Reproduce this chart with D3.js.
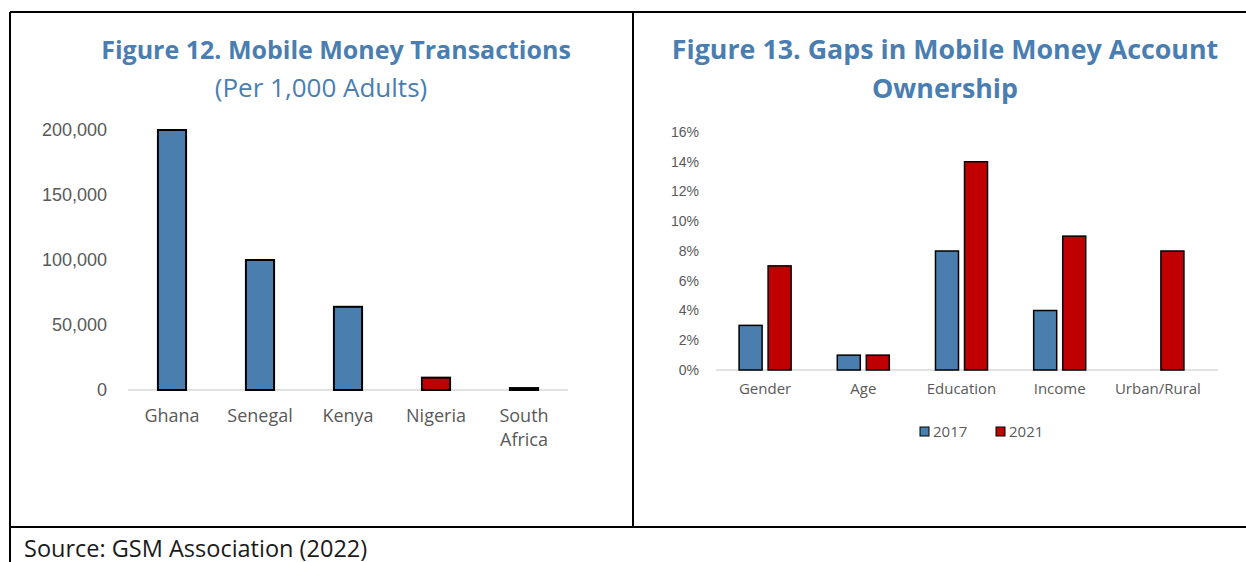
<!DOCTYPE html>
<html>
<head>
<meta charset="utf-8">
<script src="https://cdn.jsdelivr.net/npm/d3@7"></script>
<style>
  body { margin: 0; background: #fff; }
  svg { display: block; font-family: "Open Sans", "Noto Sans", sans-serif; }
</style>
</head>
<body>
<div id="chart"></div>
<script>
// Figure 12 data
const countries = ['Ghana', 'Senegal', 'Kenya', 'Nigeria', 'South Africa'];
const transactions = [200000, 100000, 64000, 9500, 1500];
const countryColors = ['#4a7eae', '#4a7eae', '#4a7eae', '#c00000', '#4a7eae'];
const txTicks = [0, 50000, 100000, 150000, 200000];

// Figure 13 data
const gapCategories = ['Gender', 'Age', 'Education', 'Income', 'Urban/Rural'];
const years = ['2017', '2021'];
const gaps2017 = [0.03, 0.01, 0.08, 0.04, null];
const gaps2021 = [0.07, 0.01, 0.14, 0.09, 0.08];
const gapTicks = [0, 0.02, 0.04, 0.06, 0.08, 0.10, 0.12, 0.14, 0.16];

const blue = '#4a7eae';
const red = '#c00000';
const titleColor = '#4a7eb0';
const axisGray = '#595959';

const W = 1246, H = 562;
const svg = d3.select('#chart').append('svg')
  .attr('width', W)
  .attr('height', H);

// frame lines
const frame = svg.append('g').attr('stroke', '#000').attr('stroke-width', 2);
frame.append('line').attr('x1', 10).attr('x2', W).attr('y1', 12).attr('y2', 12);
frame.append('line').attr('x1', 10).attr('x2', 10).attr('y1', 12).attr('y2', H);
frame.append('line').attr('x1', 633).attr('x2', 633).attr('y1', 12).attr('y2', 527);
frame.append('line').attr('x1', 10).attr('x2', W).attr('y1', 527).attr('y2', 527);

svg.append('text')
  .attr('x', 24).attr('y', 557)
  .attr('font-size', 23.5)
  .attr('fill', '#1a1a1a')
  .text('Source: GSM Association (2022)');

// ---- Figure 12 ----
const t1 = svg.append('g').attr('text-anchor', 'middle').attr('fill', titleColor);
t1.append('text').attr('x', 336).attr('y', 59)
  .attr('font-size', 25).attr('font-weight', 'bold')
  .text('Figure 12. Mobile Money Transactions');
t1.append('text').attr('x', 321).attr('y', 97)
  .attr('font-size', 26)
  .text('(Per 1,000 Adults)');

const x1 = d3.scaleBand().domain(countries).range([128, 568]).paddingInner(0.68).paddingOuter(0.34);
const y1 = d3.scaleLinear().domain([0, 200000]).range([390, 130]);

const g1 = svg.append('g');
const yAxis1 = g1.append('g')
  .attr('transform', 'translate(107,0)')
  .call(d3.axisLeft(y1).tickValues(txTicks).tickSize(0).tickPadding(0).tickFormat(d3.format(',')));
yAxis1.select('.domain').remove();
yAxis1.selectAll('text').attr('font-size', 18).attr('fill', axisGray).attr('font-family', null);

g1.append('line')
  .attr('x1', 128).attr('x2', 568)
  .attr('y1', y1(0)).attr('y2', y1(0))
  .attr('stroke', '#d9d9d9').attr('stroke-width', 1.5);

g1.selectAll('rect.bar')
  .data(countries)
  .join('rect')
  .attr('class', 'bar')
  .attr('x', d => x1(d))
  .attr('width', x1.bandwidth())
  .attr('y', (d, i) => y1(transactions[i]))
  .attr('height', (d, i) => y1(0) - y1(transactions[i]))
  .attr('fill', (d, i) => countryColors[i])
  .attr('stroke', '#000')
  .attr('stroke-width', 2);

const xl1 = g1.append('g').attr('text-anchor', 'middle').attr('font-size', 18).attr('fill', axisGray);
countries.forEach(c => {
  const words = c.split(' ');
  const t = xl1.append('text')
    .attr('x', x1(c) + x1.bandwidth() / 2)
    .attr('y', 422);
  words.forEach((w, i) => {
    t.append('tspan')
      .attr('x', x1(c) + x1.bandwidth() / 2)
      .attr('dy', i === 0 ? 0 : 24)
      .text(w);
  });
});

// ---- Figure 13 ----
const t2 = svg.append('g').attr('text-anchor', 'middle').attr('fill', titleColor)
  .attr('font-size', 26.8).attr('font-weight', 'bold');
t2.append('text').attr('x', 945).attr('y', 59).text('Figure 13. Gaps in Mobile Money Account');
t2.append('text').attr('x', 945).attr('y', 98).text('Ownership');

const x2 = d3.scaleBand().domain(gapCategories).range([716, 1207]).paddingInner(0.47).paddingOuter(0.235);
const xs = d3.scaleBand().domain(years).range([0, x2.bandwidth()]).paddingInner(0.207);
const y2 = d3.scaleLinear().domain([0, 0.16]).range([370, 132]);

const g2 = svg.append('g');
const yAxis2 = g2.append('g')
  .attr('transform', 'translate(699,0)')
  .call(d3.axisLeft(y2).tickValues(gapTicks).tickSize(0).tickPadding(0).tickFormat(d3.format('.0%')));
yAxis2.select('.domain').remove();
yAxis2.selectAll('text').attr('font-size', 14).attr('fill', axisGray).attr('font-family', null);

g2.append('line')
  .attr('x1', 716).attr('x2', 1218)
  .attr('y1', y2(0)).attr('y2', y2(0))
  .attr('stroke', '#d9d9d9').attr('stroke-width', 1.5);

const series = [
  { year: '2017', values: gaps2017, color: blue },
  { year: '2021', values: gaps2021, color: red }
];

series.forEach(s => {
  g2.append('g').selectAll('rect')
    .data(gapCategories.map((c, i) => ({ c, v: s.values[i] })).filter(d => d.v != null))
    .join('rect')
    .attr('x', d => x2(d.c) + xs(s.year))
    .attr('width', xs.bandwidth())
    .attr('y', d => y2(d.v))
    .attr('height', d => y2(0) - y2(d.v))
    .attr('fill', s.color)
    .attr('stroke', '#000')
    .attr('stroke-width', 1.5);
});

g2.append('g').attr('text-anchor', 'middle').attr('font-size', 15).attr('fill', axisGray)
  .selectAll('text')
  .data(gapCategories)
  .join('text')
  .attr('x', d => x2(d) + x2.bandwidth() / 2)
  .attr('y', 394)
  .text(d => d);

// legend
const legend = g2.append('g').attr('font-size', 15).attr('fill', axisGray);
const legendX = [920, 996];
series.forEach((s, i) => {
  legend.append('rect')
    .attr('x', legendX[i]).attr('y', 427)
    .attr('width', 9).attr('height', 9)
    .attr('fill', s.color).attr('stroke', '#000').attr('stroke-width', 1);
  legend.append('text')
    .attr('x', legendX[i] + 13).attr('y', 437)
    .text(s.year);
});
</script>
</body>
</html>
